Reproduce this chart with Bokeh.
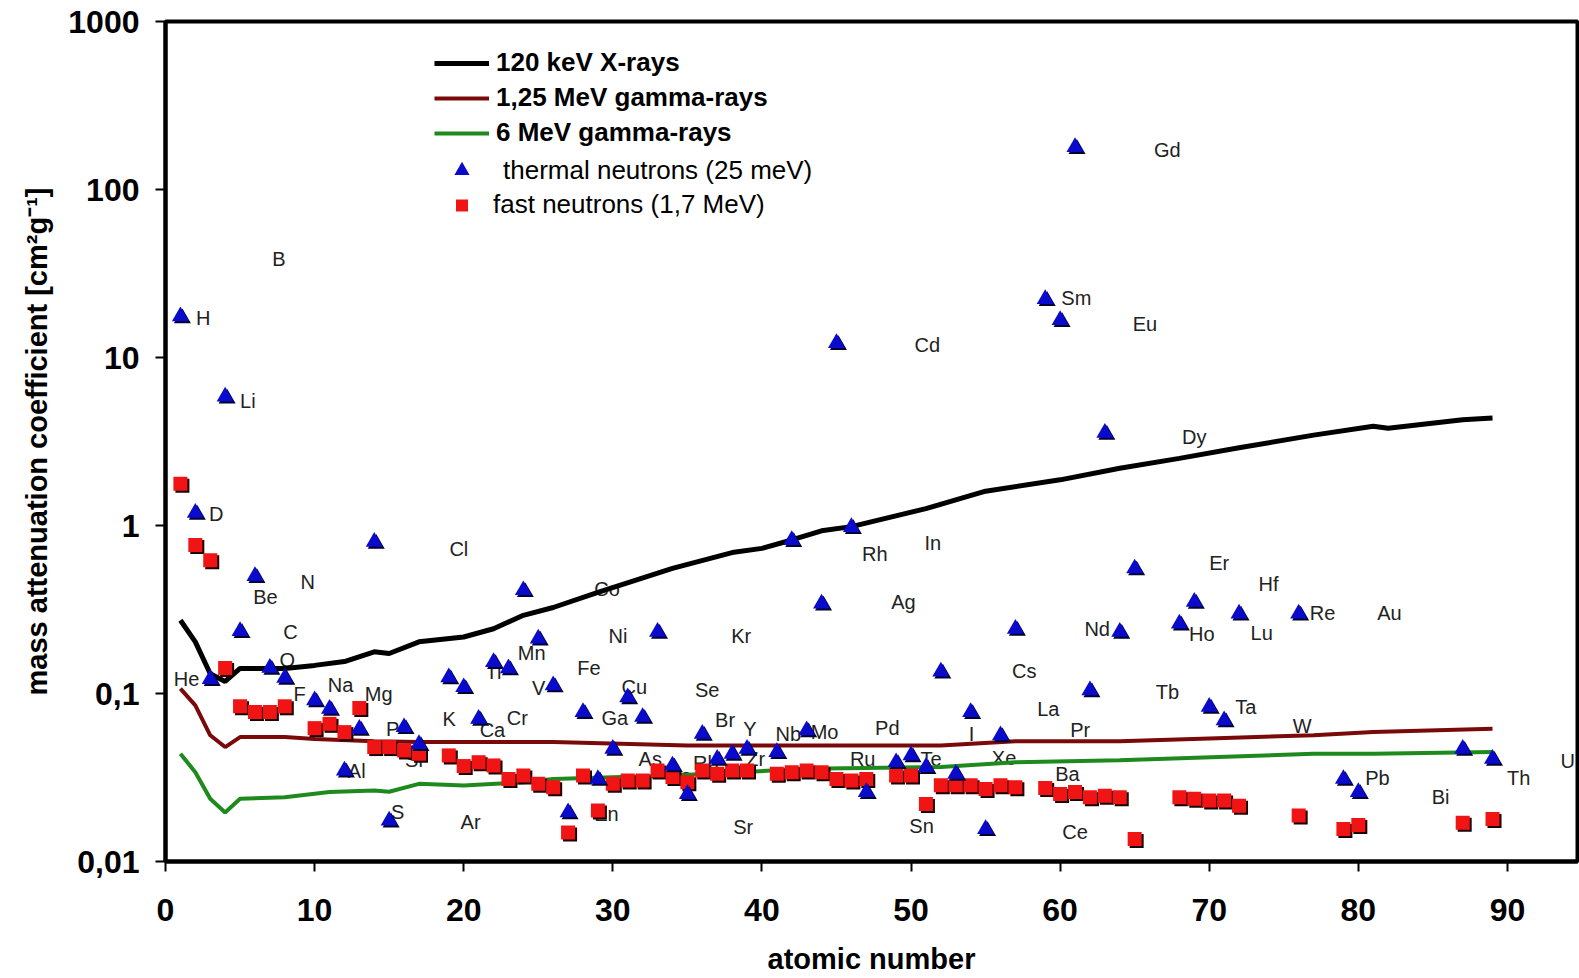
import numpy as np
from bokeh.plotting import figure
from bokeh.models import FixedTicker, Legend, LegendItem, CustomJSTickFormatter
from bokeh.core.properties import value
from bokeh.embed import file_html
from bokeh.resources import INLINE

FONT = "Liberation Sans"

# ---------------- data ----------------
atomic_z = [1, 2, 3, 4, 5, 6, 7, 8, 10, 11, 12, 13, 14, 15, 16, 17, 19, 20, 21, 22, 23, 24,
            25, 26, 27, 28, 29, 30, 31, 32, 33, 34, 35, 36, 37, 38, 39, 41, 42, 43, 44, 45,
            46, 47, 49, 50, 51, 52, 53, 54, 55, 56, 57, 59, 60, 61, 62, 63, 64, 65, 68, 69,
            70, 71, 72, 76, 79, 80, 87, 89]

thermal_v = [17.6, 1.19, 0.122, 5.85, 0.235, 0.50, 0.142, 0.124, 0.091, 0.081, 0.0348, 0.0617,
             0.80, 0.0175, 0.063, 0.050, 0.125, 0.109, 0.0707, 0.154, 0.141, 0.412, 0.212,
             0.112, 0.0196, 0.0776, 0.031, 0.0469, 0.095, 0.0725, 0.233, 0.0373, 0.0252,
             0.0575, 0.0408, 0.0438, 0.0469, 0.0448, 0.82, 0.0604, 0.343, 12.2, 0.98, 0.0259,
             0.039, 0.0428, 0.0365, 0.135, 0.0333, 0.0776, 0.0156, 0.0564, 0.243, 22.3, 16.7,
             179.0, 0.1045, 3.56, 0.233, 0.555, 0.261, 0.351, 0.0832, 0.0692, 0.299, 0.299,
             0.031, 0.0259, 0.0469, 0.0408]

fast_v = [1.77, 0.765, 0.622, 0.142, 0.0839, 0.0776, 0.0776, 0.0839, 0.0622, 0.066, 0.0589,
          0.082, 0.048, 0.048, 0.0458, 0.0438, 0.0428, 0.037, 0.039, 0.0373, 0.031, 0.0325,
          0.029, 0.0277, 0.0149, 0.0325, 0.0201, 0.029, 0.0303, 0.0303, 0.0348, 0.0318,
          0.0296, 0.0348, 0.0333, 0.0348, 0.0348, 0.0333, 0.034, 0.0348, 0.034, 0.031,
          0.0303, 0.031, 0.0325, 0.0325, 0.022, 0.0284, 0.0284, 0.0284, 0.027, 0.0284,
          0.0277, 0.0274, 0.0252, 0.0259, 0.0241, 0.0246, 0.0241, 0.0136, 0.0241, 0.0236,
          0.0231, 0.0231, 0.0215, 0.0188, 0.0156, 0.0165, 0.017, 0.0179]

xray_z = [1, 2, 3, 4, 5, 8, 10, 12, 14, 15, 17, 20, 22, 24, 26, 29, 34, 38, 40, 42, 44, 46,
          51, 55, 60, 64, 68, 72, 77, 81, 82, 87, 89]
xray_v = [0.273, 0.203, 0.131, 0.118, 0.141, 0.141, 0.147, 0.155, 0.177, 0.173, 0.203, 0.217,
          0.243, 0.292, 0.325, 0.40, 0.555, 0.69, 0.731, 0.82, 0.93, 0.985, 1.26, 1.6, 1.87,
          2.19, 2.51, 2.9, 3.45, 3.9, 3.79, 4.26, 4.36]

g125_z = [1, 2, 3, 4, 5, 8, 10, 14, 17, 26, 35, 45, 52, 57, 64, 70, 77, 81, 89]
g125_v = [0.107, 0.085, 0.0564, 0.048, 0.055, 0.055, 0.0536, 0.052, 0.0514, 0.0514, 0.049,
          0.049, 0.049, 0.052, 0.052, 0.054, 0.0564, 0.0589, 0.0617]

g6_z = [1, 2, 3, 4, 5, 8, 11, 14, 15, 17, 20, 24, 26, 34, 43, 52, 57, 64, 77, 81, 89]
g6_v = [0.0438, 0.034, 0.0236, 0.0196, 0.0236, 0.0241, 0.0259, 0.0265, 0.026, 0.029, 0.0283,
        0.0296, 0.031, 0.0325, 0.0356, 0.0365, 0.039, 0.040, 0.0438, 0.0438, 0.0448]

label_text = ["H", "B", "Li", "D", "Cl", "N", "Be", "C", "O", "He", "F", "Na", "Mg", "Al", "P",
              "Si", "S", "Ar", "K", "Ca", "Cr", "Ti", "Mn", "V", "Co", "Fe", "Ni", "Cu", "Ga",
              "As", "Ge", "Zn", "Se", "Br", "Rb", "Sr", "Y", "Zr", "Nb", "Mo", "Kr", "Rh", "Ag",
              "In", "Cd", "Pd", "Ru", "Te", "Sn", "I", "Xe", "Cs", "La", "Ba", "Ce", "Pr", "Nd",
              "Sm", "Eu", "Gd", "Dy", "Tb", "Er", "Ho", "Hf", "Lu", "Ta", "Re", "W", "Au", "Pb",
              "Bi", "Th", "U"]
label_x = [2.04, 7.16, 5.0, 2.91, 19.04, 9.05, 5.88, 7.9, 7.64, 0.55, 8.58, 10.88, 13.37,
           12.23, 14.79, 16.07, 15.13, 19.79, 18.57, 21.07, 22.89, 21.47, 23.63, 24.58, 28.76,
           27.61, 29.71, 30.58, 29.24, 31.73, 33.49, 28.83, 35.51, 36.86, 35.38, 38.08, 38.75,
           38.95, 40.91, 43.27, 37.94, 46.72, 48.67, 50.9, 50.23, 47.59, 45.9, 50.63, 49.89,
           53.87, 55.42, 56.77, 58.46, 59.67, 60.15, 60.68, 61.63, 60.08, 64.87, 66.29, 68.18,
           66.42, 70.0, 68.65, 73.31, 72.77, 71.75, 76.75, 75.6, 81.27, 80.46, 84.92, 89.98,
           93.56]
label_y = [17.1, 38.6, 5.49, 1.17, 0.729, 0.462, 0.376, 0.231, 0.159, 0.1225, 0.0995, 0.1128,
           0.0995, 0.0344, 0.0614, 0.040, 0.0198, 0.0172, 0.0705, 0.0605, 0.0714, 0.135, 0.175,
           0.108, 0.42, 0.141, 0.219, 0.1096, 0.0714, 0.0405, 0.0325, 0.0192, 0.105, 0.0695,
           0.0384, 0.0161, 0.0614, 0.0405, 0.0573, 0.0589, 0.219, 0.681, 0.35, 0.792, 11.9,
           0.0622, 0.0405, 0.0405, 0.0163, 0.0573, 0.0411, 0.137, 0.081, 0.0334, 0.015, 0.0605,
           0.241, 22.5, 15.9, 171.0, 3.38, 0.102, 0.601, 0.225, 0.45, 0.228, 0.0832, 0.301,
           0.064, 0.301, 0.0316, 0.0243, 0.0316, 0.0394]

x_ticks = [0, 10, 20, 30, 40, 50, 60, 70, 80, 90]
y_ticks = [0.01, 0.1, 1, 10, 100, 1000]

# ---------------- figure ----------------
p = figure(width=1579, height=978, x_range=(0, 94.7), y_range=(0.01, 1000),
           y_axis_type="log", output_backend="svg", toolbar_location=None, title=None,
           min_border_left=165, min_border_right=2, min_border_top=21, min_border_bottom=117)

p.xgrid.visible = False
p.ygrid.visible = False
p.outline_line_color = "black"
p.outline_line_width = 4
p.background_fill_color = "white"
p.border_fill_color = "white"

for ax in (p.xaxis[0], p.yaxis[0]):
    ax.axis_line_width = 4
    ax.major_tick_line_width = 2
    ax.major_tick_out = 10
    ax.major_tick_in = 0
    ax.minor_tick_out = 0
    ax.minor_tick_in = 0
    ax.major_label_text_font = FONT
    ax.major_label_text_font_size = "32px"
    ax.major_label_text_font_style = "bold"
    ax.major_label_text_color = "black"
    ax.axis_label_text_font = FONT
    ax.axis_label_text_font_size = "29px"
    ax.axis_label_text_font_style = "bold"
    ax.axis_label_text_color = "black"

p.xaxis.ticker = FixedTicker(ticks=x_ticks, minor_ticks=[])
p.yaxis.ticker = FixedTicker(ticks=y_ticks, minor_ticks=[])
p.yaxis.formatter = CustomJSTickFormatter(code="return String(tick).replace('.', ',');")
p.xaxis.axis_label = "atomic number"
p.yaxis.axis_label = "mass attenuation coefficient [cm²g⁻¹]"
p.xaxis.major_label_standoff = 27
p.xaxis.axis_label_standoff = 19
p.yaxis.major_label_standoff = 16
p.yaxis.axis_label_standoff = 12

# element labels (beneath lines and markers)
p.text(x=label_x, y=label_y, text=label_text, text_font=value(FONT), text_font_size="20px",
       text_align="left", text_baseline="middle", text_color="#222222")

# attenuation curves
r_x = p.line(xray_z, xray_v, line_color="black", line_width=5)
r_g1 = p.line(g125_z, g125_v, line_color="#7a0a0a", line_width=4)
r_g6 = p.line(g6_z, g6_v, line_color="#1e8a1e", line_width=4)

# shadows (2 px right/down) derived from the data through the scales
dx = 2.0 / 14.92
fy = 10 ** (-2.0 / 167.7)
z_arr = np.array(atomic_z, dtype=float)

p.scatter(z_arr + dx, np.array(fast_v) * fy, marker="square", size=14,
          fill_color="#1a0000", line_color=None)
r_fast = p.scatter(atomic_z, fast_v, marker="square", size=14,
                   fill_color="#f01414", line_color=None)

p.scatter(z_arr + dx, np.array(thermal_v) * fy, marker="triangle", size=17,
          fill_color="#000030", line_color=None)
r_th = p.scatter(atomic_z, thermal_v, marker="triangle", size=17,
                 fill_color="#0a0acc", line_color=None)

# ---------------- legends ----------------
common = dict(padding=0, margin=0, border_line_alpha=0, background_fill_alpha=0,
              glyph_width=55, label_text_font=FONT, label_text_color="black")

leg1 = Legend(items=[LegendItem(label="120 keV X-rays", renderers=[r_x]),
                     LegendItem(label="1,25 MeV gamma-rays", renderers=[r_g1]),
                     LegendItem(label="6 MeV gamma-rays", renderers=[r_g6])],
              location=(269, 713), label_text_font_size="26px", label_text_font_style="bold",
              glyph_height=30, label_height=30, spacing=4, label_standoff=7, **common)
leg2 = Legend(items=[LegendItem(label="thermal neutrons (25 meV)", renderers=[r_th])],
              location=(269, 672), label_text_font_size="26px", glyph_height=38,
              label_height=38, spacing=0, label_standoff=14, **common)
leg3 = Legend(items=[LegendItem(label="fast neutrons (1,7 MeV)", renderers=[r_fast])],
              location=(269, 641), label_text_font_size="26px", glyph_height=30,
              label_height=30, spacing=0, label_standoff=4, **common)
for lg in (leg1, leg2, leg3):
    p.add_layout(lg)

open("out.html", "w").write(file_html(p, INLINE))
